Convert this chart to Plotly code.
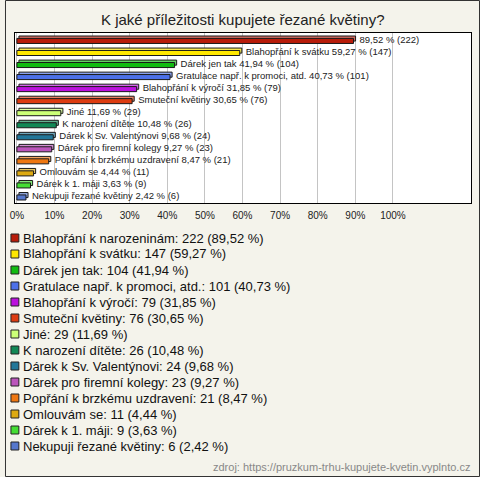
import plotly.graph_objects as go

W, H = 480, 477

categories = [
    "Blahopřání k narozeninám",
    "Blahopřání k svátku",
    "Dárek jen tak",
    "Gratulace např. k promoci, atd.",
    "Blahopřání k výročí",
    "Smuteční květiny",
    "Jiné",
    "K narození dítěte",
    "Dárek k Sv. Valentýnovi",
    "Dárek pro firemní kolegy",
    "Popřání k brzkému uzdravení",
    "Omlouvám se",
    "Dárek k 1. máji",
    "Nekupuji řezané květiny",
]
counts = [222, 147, 104, 101, 79, 76, 29, 26, 24, 23, 21, 11, 9, 6]
percents = [89.52, 59.27, 41.94, 40.73, 31.85, 30.65, 11.69, 10.48, 9.68, 9.27, 8.47, 4.44, 3.63, 2.42]
colors = ["#b81c0a", "#ffe800", "#11bb11", "#4c70e8", "#bb11dd", "#dd3c11", "#ccff77",
          "#118855", "#227799", "#bb55bb", "#ee7711", "#ddaa11", "#44dd33", "#5577cc"]
tick_vals = [0, 10, 20, 30, 40, 50, 60, 70, 80, 90, 100]
tick_text = [f"{v}%" for v in tick_vals]
title = "K jaké příležitosti kupujete řezané květiny?"
source = "zdroj: https://pruzkum-trhu-kupujete-kvetin.vyplnto.cz"

def fmt(p):
    return f"{p:.2f}".replace(".", ",")

def lighten(hexcol, t=0.35):
    r, g, b = (int(hexcol[i:i + 2], 16) for i in (1, 3, 5))
    r, g, b = (int(v + (255 - v) * t) for v in (r, g, b))
    return f"#{r:02x}{g:02x}{b:02x}"

bar_labels = []
for i, (c, n, p) in enumerate(zip(categories, counts, percents)):
    if i == 0:
        bar_labels.append(f"{fmt(p)} % ({n})")
    else:
        bar_labels.append(f"{c} {fmt(p)} % ({n})")

FONT = "Liberation Sans, Arial, sans-serif"
BW = 0.42
DEPTH_X = 0.55   # in % units (~2px)
DEPTH_Y = 0.16   # in category units (~2px)
LABEL_GAP = 1.6  # in % units

fig = go.Figure()
# back (3D top/side) face
fig.add_trace(go.Bar(
    x=percents, y=categories, orientation="h", base=DEPTH_X,
    marker=dict(color=[lighten(c) for c in colors], line=dict(color="#1a1a1a", width=1)),
    width=BW, offset=-BW / 2 - DEPTH_Y,
    hoverinfo="skip",
))
# front face
fig.add_trace(go.Bar(
    x=percents, y=categories, orientation="h",
    marker=dict(color=colors, line=dict(color="#1a1a1a", width=1)),
    width=BW, offset=-BW / 2 + 0.04,
    hoverinfo="skip",
))
# value labels
fig.add_trace(go.Scatter(
    x=[p + LABEL_GAP for p in percents], y=categories, mode="text",
    text=bar_labels, textposition="middle right", cliponaxis=False,
    textfont=dict(size=9.5, color="#222222", family=FONT),
    hoverinfo="skip",
))

# plot area pixels
L, R, T, B = 10, 471, 33, 203
x_left = -2 / 3.8
x_right = (R - 12) / 3.8
fig.update_xaxes(
    domain=[L / W, R / W], range=[x_left, x_right], autorange=False,
    tickvals=tick_vals, ticktext=tick_text,
    showgrid=True, gridcolor="#c4c4c4", gridwidth=1, zeroline=False,
    showline=True, linecolor="#000000", linewidth=1, mirror=True,
    tickfont=dict(size=10, color="#222222", family=FONT), ticks="",
    ticklabelstandoff=3,
)
fig.update_yaxes(
    domain=[1 - B / H, 1 - T / H], range=[13.5, -0.62], autorange=False,
    showticklabels=False, showgrid=False, zeroline=False,
    showline=True, linecolor="#000000", linewidth=1, mirror=True,
)

annotations = [
    dict(text=title, x=240 / W, y=1 - 19 / H, xref="paper", yref="paper",
         xanchor="center", yanchor="middle", showarrow=False,
         font=dict(size=15, color="#222222", family=FONT)),
    dict(text=source, x=472 / W, y=1 - 467 / H, xref="paper", yref="paper",
         xanchor="right", yanchor="middle", showarrow=False,
         font=dict(size=11, color="#888888", family=FONT)),
]
shapes = [
    dict(type="rect", xref="paper", yref="paper", x0=0.5 / W, x1=1 - 0.5 / W,
         y0=0.5 / H, y1=1 - 0.5 / H, line=dict(color="#333333", width=1), layer="above"),
]
for i, (c, n, p, col) in enumerate(zip(categories, counts, percents, colors)):
    yc = 238 + 16 * i
    shapes.append(dict(type="rect", xref="paper", yref="paper",
                       x0=6 / W, x1=14 / W, y0=1 - (yc + 4) / H, y1=1 - (yc - 4) / H,
                       fillcolor=col, line=dict(color="#222222", width=1)))
    annotations.append(dict(text=f"{c}: {n} ({fmt(p)} %)", x=16 / W, y=1 - yc / H,
                            xref="paper", yref="paper", xanchor="left", yanchor="middle",
                            showarrow=False, font=dict(size=13, color="#111111", family=FONT)))

fig.update_layout(
    width=W, height=H, margin=dict(l=0, r=0, t=0, b=0),
    paper_bgcolor="#f4f3eb", plot_bgcolor="#ffffff",
    showlegend=False, annotations=annotations, shapes=shapes,
    barmode="overlay",
)
fig.write_html("out.html", config={"displayModeBar": False},
               post_script="document.body.style.margin='0';document.body.style.overflow='hidden';")
